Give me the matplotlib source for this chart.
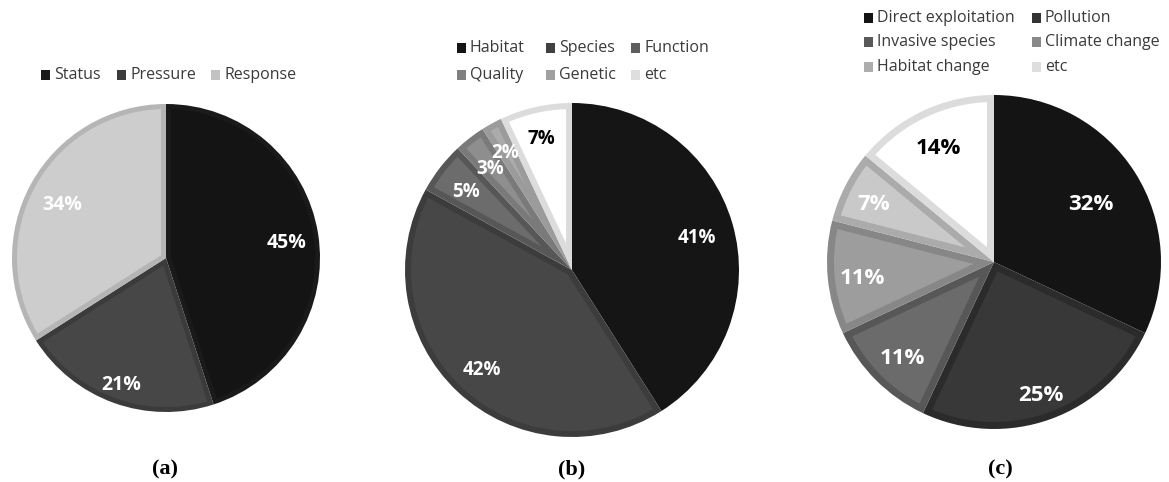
import numpy as np
import matplotlib
matplotlib.use("Agg")
import matplotlib.pyplot as plt
from matplotlib.patches import Rectangle, Polygon

# ---- data ---------------------------------------------------------------
a_labels = ["Status", "Pressure", "Response"]
a_values = [45, 21, 34]

b_labels = ["Habitat", "Species", "Function", "Quality", "Genetic", "etc"]
b_values = [41, 42, 5, 3, 2, 7]

c_labels = ["Direct exploitation", "Pollution", "Invasive species",
            "Climate change", "Habitat change", "etc"]
c_values = [32, 25, 11, 11, 7, 14]

panel_tags = ["(a)", "(b)", "(c)"]

# ---- styling --------------------------------------------------------------
a_fill = ["#141414", "#474747", "#cdcdcd"]
a_edge = ["#1a1a1a", "#3b3b3b", "#b5b5b5"]
b_fill = ["#151515", "#474747", "#6c6c6c", "#8e8e8e", "#ababab", "#ffffff"]
b_edge = ["#151515", "#3c3c3c", "#575757", "#7a7a7a", "#9b9b9b", "#dcdcdc"]
c_fill = ["#141414", "#383838", "#6b6b6b", "#9d9d9d", "#c9c9c9", "#ffffff"]
c_edge = ["#141414", "#2b2b2b", "#575757", "#878787", "#ababab", "#dcdcdc"]

W, H = 1169, 482
DPI = 100
FONT = ["Open Sans", "DejaVu Sans"]

fig = plt.figure(figsize=(W / DPI, H / DPI), dpi=DPI)
fig.patch.set_facecolor("white")


def px_axes(cx, cy, r):
    """Square axes covering a circle of radius r (pixels) centred at cx, cy."""
    ax = fig.add_axes([(cx - r) / W, 1 - (cy + r) / H, 2 * r / W, 2 * r / H])
    ax.set_xlim(-1, 1)
    ax.set_ylim(-1, 1)
    ax.axis("off")
    return ax


def inset_wedge(theta1, theta2, radius, t):
    """Outline of a wedge shrunk inwards by a constant border width t."""
    a1, a2 = np.deg2rad(theta1), np.deg2rad(theta2)
    half = (a2 - a1) / 2
    bis = (a1 + a2) / 2
    apex_d = t / np.sin(half)
    ri = radius - t
    off = np.arcsin(min(t / ri, 1.0))
    if apex_d >= ri * np.cos(off) or a1 + off >= a2 - off:
        return None
    arc = np.linspace(a1 + off, a2 - off, 120)
    pts = [(apex_d * np.cos(bis), apex_d * np.sin(bis))]
    pts += list(zip(ri * np.cos(arc), ri * np.sin(arc)))
    return np.array(pts)


def draw_pie(ax, values, fills, edges, border_px, radius_px, dists, txt_colors, fsize):
    wedges, _ = ax.pie(values, colors=edges, startangle=90, counterclock=False,
                       radius=1.0, center=(0, 0), frame=False,
                       wedgeprops=dict(linewidth=0))
    t = border_px / radius_px
    for w, fc in zip(wedges, fills):
        poly = inset_wedge(w.theta1, w.theta2, w.r, t)
        if poly is not None:
            ax.add_patch(Polygon(poly, closed=True, facecolor=fc,
                                 edgecolor="none", zorder=w.get_zorder() + 0.1))
    ax.set_xlim(-1, 1)
    ax.set_ylim(-1, 1)
    total = sum(values)
    for w, v, d, tc in zip(wedges, values, dists, txt_colors):
        mid = np.deg2rad((w.theta1 + w.theta2) / 2)
        ax.annotate(f"{round(100 * v / total)}%", (d * np.cos(mid), d * np.sin(mid)),
                    xytext=(0, -3), textcoords="offset points",
                    ha="center", va="center", color=tc, fontsize=fsize,
                    fontweight="bold", family=FONT, zorder=5)
    return wedges


def legend_rows(labels, colors, cols_x, rows_y, fsize):
    ncol = len(cols_x)
    for i, (lab, col) in enumerate(zip(labels, colors)):
        x = cols_x[i % ncol]
        y = rows_y[i // ncol]
        s = 9
        fig.patches.append(Rectangle(((x) / W, 1 - (y + s / 2) / H), s / W, s / H,
                                     transform=fig.transFigure, facecolor=col,
                                     edgecolor="none"))
        fig.text((x + s + 4) / W, 1 - y / H, lab, ha="left", va="center",
                 fontsize=fsize, color="#3a3a3a", family=FONT)


# (a)
ax_a = px_axes(166, 258, 154)
draw_pie(ax_a, a_values, a_fill, a_edge, 5, 154,
         [0.79, 0.85, 0.77], ["white", "white", "white"], 14)
legend_rows(a_labels, [a_edge[0], a_edge[1], "#c2c2c2"],
            [41, 117, 211], [75], 11.5)

# (b)
ax_b = px_axes(572, 270, 167)
draw_pie(ax_b, b_values, b_fill, b_edge, 6, 167,
         [0.78, 0.79, 0.80, 0.80, 0.83, 0.83],
         ["white"] * 5 + ["black"], 13.5)
legend_rows(b_labels, ["#151515", "#404040", "#5e5e5e", "#808080", "#a0a0a0", "#dedede"],
            [457, 546, 631], [48, 75], 11.5)

# (c)
ax_c = px_axes(994, 262, 167)
draw_pie(ax_c, c_values, c_fill, c_edge, 7, 167,
         [0.69, 0.82, 0.78, 0.79, 0.81, 0.78],
         ["white"] * 5 + ["black"], 16)
legend_rows(c_labels, ["#141414", "#333333", "#595959", "#898989", "#adadad", "#dedede"],
            [864, 1032], [18, 42, 67], 11.5)

# panel tags
for tag, x in zip(panel_tags, [165, 572, 1000]):
    fig.text(x / W, 1 - 469 / H, tag, ha="center", va="center", fontsize=16,
             fontweight="bold", family="Liberation Serif")

fig.savefig("out.png", dpi=DPI, facecolor="white")
